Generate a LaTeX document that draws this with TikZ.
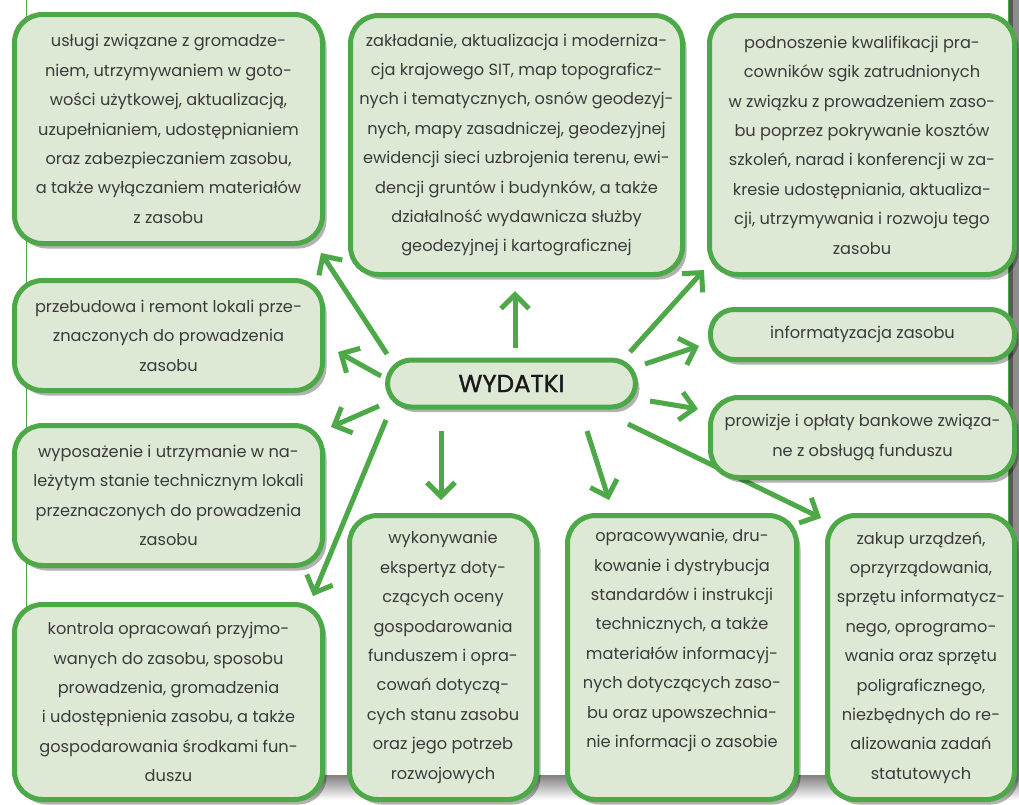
\documentclass[tikz,border=0pt]{standalone}
\usepackage{fontspec}
\setmainfont{Poppins}
\usetikzlibrary{arrows.meta,shadows,backgrounds}

\definecolor{zielony}{HTML}{4DA848}
\definecolor{jasny}{HTML}{DDE9D5}
\definecolor{tekst}{HTML}{3A3A3A}

\tikzset{
  kratka/.style={draw=zielony, line width=5pt, fill=jasny, rounded corners=28pt,
    text=tekst, align=center, inner sep=0pt,
    font=\fontsize{16.2}{29.4}\selectfont,
    drop shadow={shadow xshift=4pt, shadow yshift=-5pt, opacity=0.3, fill=black}},
  strz/.style={zielony, line width=5pt, -{Straight Barb[length=14pt,width=28pt]}},
}

\begin{document}
\begin{tikzpicture}[x=1pt,y=-1pt]
\useasboundingbox (0,0) rectangle (1019,804);

% tlo
\begin{scope}[on background layer]
  \shade[top color=black!50, bottom color=white] (26,775) rectangle (1019,800);
  \fill[black!45] (1008,-5) rectangle (1019,780);
  \fill[black!65] (1008,-5) rectangle (1013,780);
  \draw[zielony, line width=1pt, fill=white] (26,-10) rectangle (1008,775);
\end{scope}

% srodek
\node[kratka, rounded corners=24pt, minimum width=248pt, minimum height=47pt,
  font=\fontsize{24.5}{27}\selectfont\addfontfeature{FakeBold=1.2}, text=black!90] (wyd) at (511.5,383.5) {WYDATKI};

% gora
\node[kratka, minimum width=308pt, minimum height=229pt] (usl) at (168.5,129)
  {usługi związane z gromadze-\\niem, utrzymywaniem w goto-\\wości użytkowej, aktualizacją,\\uzupełnianiem, udostępnianiem\\oraz zabezpieczaniem zasobu,\\a także wyłączaniem materiałów\\z zasobu};
\node[kratka, minimum width=332pt, minimum height=259pt] (mod) at (516.5,145)
  {zakładanie, aktualizacja i moderniza-\\cja krajowego SIT, map topograficz-\\nych i tematycznych, osnów geodezyj-\\nych, mapy zasadniczej, geodezyjnej\\ewidencji sieci uzbrojenia terenu, ewi-\\dencji gruntów i budynków, a także\\działalność wydawnicza służby\\geodezyjnej i kartograficznej};
\node[kratka, minimum width=305pt, minimum height=259pt] (kwal) at (862,145)
  {podnoszenie kwalifikacji pra-\\cowników sgik zatrudnionych\\w związku z prowadzeniem zaso-\\bu poprzez pokrywanie kosztów\\szkoleń, narad i konferencji w za-\\kresie udostępniania, aktualiza-\\cji, utrzymywania i rozwoju tego\\zasobu};

% lewa strona
\node[kratka, minimum width=308pt, minimum height=110pt] (prz) at (168.5,335.5)
  {przebudowa i remont lokali prze-\\znaczonych do prowadzenia\\zasobu};
\node[kratka, minimum width=308pt, minimum height=140pt] (wyp) at (168.5,495.5)
  {wyposażenie i utrzymanie w na-\\leżytym stanie technicznym lokali\\przeznaczonych do prowadzenia\\zasobu};
\node[kratka, minimum width=308pt, minimum height=195pt] (kon) at (168.5,702)
  {kontrola opracowań przyjmo-\\wanych do zasobu, sposobu\\prowadzenia, gromadzenia\\i udostępnienia zasobu, a także\\gospodarowania środkami fun-\\duszu};

% prawa strona
\node[kratka, rounded corners=24pt, minimum width=304pt, minimum height=50pt] (inf) at (862.5,334.5)
  {informatyzacja zasobu};
\node[kratka, minimum width=304pt, minimum height=80pt] (prow) at (862.5,437.5)
  {prowizje i opłaty bankowe związa-\\ne z obsługą funduszu};

% dol
\node[kratka, minimum width=187pt, minimum height=284pt] (wyk) at (443,657.5)
  {wykonywanie\\ekspertyz doty-\\czących oceny\\gospodarowania\\funduszem i opra-\\cowań dotyczą-\\cych stanu zasobu\\oraz jego potrzeb\\rozwojowych};
\node[kratka, minimum width=229pt, minimum height=284pt] (opr) at (682,657.5)
  {opracowywanie, dru-\\kowanie i dystrybucja\\standardów i instrukcji\\technicznych, a także\\materiałów informacyj-\\nych dotyczących zaso-\\bu oraz upowszechnia-\\nie informacji o zasobie\\ \strut};
\node[kratka, minimum width=187pt, minimum height=284pt] (zak) at (921,657.5)
  {zakup urządzeń,\\oprzyrządowania,\\sprzętu informatycz-\\nego, oprogramo-\\wania oraz sprzętu\\poligraficznego,\\niezbędnych do re-\\alizowania zadań\\statutowych};

% strzalki
\begin{scope}[on background layer]
\foreach \cel/\sx/\sy/\tx/\ty in {usl/387/354/321/253, mod/515/348/515/291,
    kwal/630/352/704/270, inf/645/364/699/346, prow/650/401/698/409,
    zak/628/424/821/518, opr/587/431/609/500, wyk/441/431/441/500,
    kon/386/420/313/596, wyp/379/406/331/427, prz/381/376/338/352}
  {\coordinate (z-\cel) at (\sx,\sy);
   \coordinate (do-\cel) at (\tx,\ty);
   \draw[strz] (z-\cel) -- (do-\cel);}
\end{scope}
\end{tikzpicture}
\end{document}
